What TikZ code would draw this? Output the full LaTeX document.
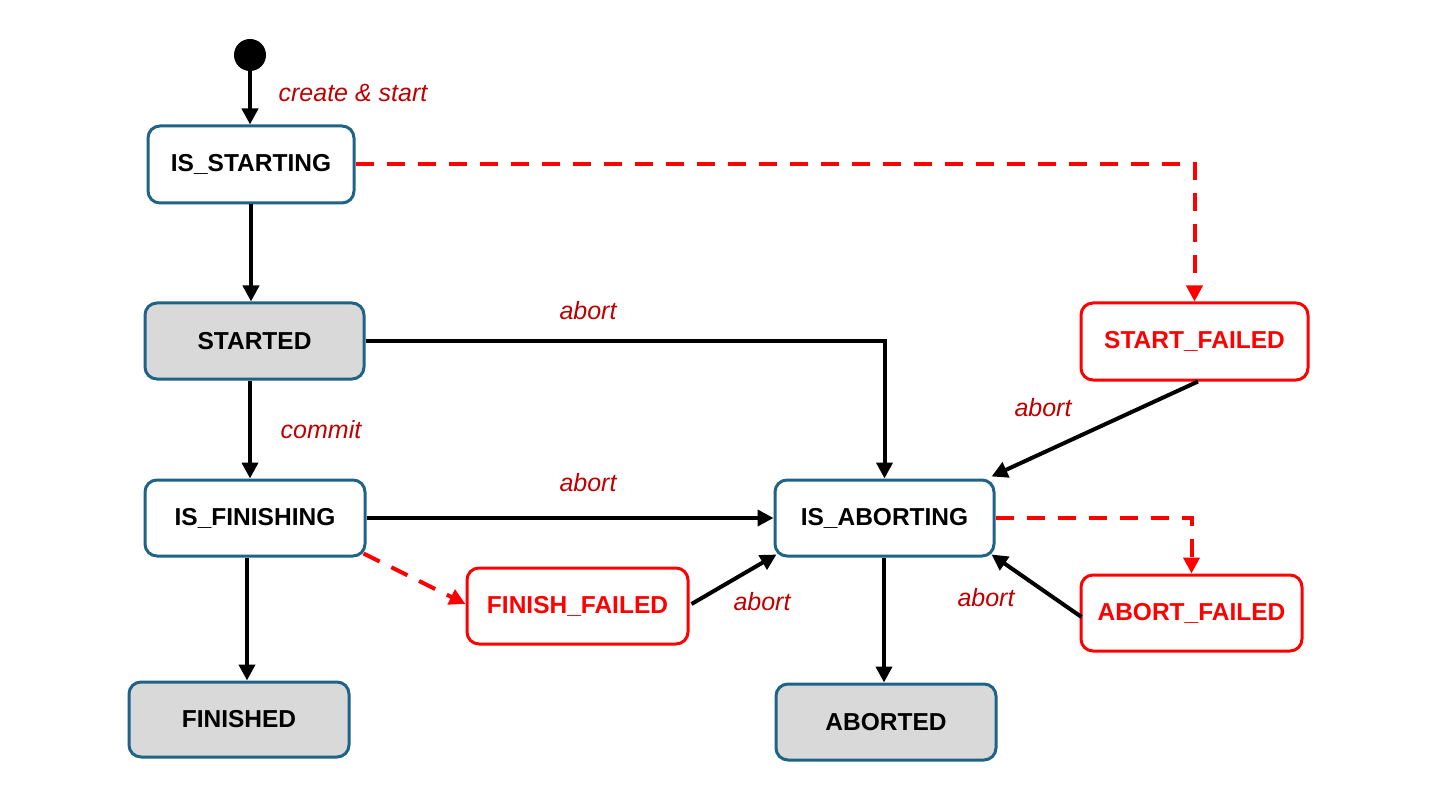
\documentclass[tikz,border=0pt]{standalone}
\usepackage{fontspec}
\setmainfont{Liberation Sans}
\usetikzlibrary{arrows.meta,calc}
\definecolor{stblue}{HTML}{1F6386}
\definecolor{stgray}{HTML}{D9D9D9}
\definecolor{lblred}{HTML}{C00000}
\definecolor{errred}{HTML}{FF0000}
\tikzset{
  state/.style={draw=stblue, line width=3pt, rounded corners=12pt, fill=white,
    minimum width=#1, minimum height=76pt, inner sep=0pt,
    font=\fontsize{24.5}{29}\selectfont\bfseries},
  state/.default=220pt,
  done/.style={state=#1, fill=stgray},
  done/.default=220pt,
  failed/.style={state=#1, draw=errred, text=errred},
  failed/.default=221pt,
  arr/.style={line width=4pt, -{Triangle[length=16pt,width=16pt]}},
  farr/.style={arr, draw=errred, dash pattern=on 18pt off 13pt, -{Triangle[length=16pt,width=16pt,fill=errred]}},
  lbl/.style={text=lblred, font=\fontsize{25}{30}\selectfont\itshape, inner sep=0pt}
}
\begin{document}
\begin{tikzpicture}[x=1pt,y=-1pt]
\useasboundingbox (0,0) rectangle (1440,810);
\fill[white] (0,0) rectangle (1440,810);

\node[circle, fill=black, minimum size=32pt, inner sep=0pt] (init) at (250,55) {};
\node[state=206pt, minimum height=77pt] (isstart) at (251,164.5) {IS\_STARTING};
\node[done=219pt] (started) at (254.5,341) {STARTED};
\node[state] (isfin) at (255,518) {IS\_FINISHING};
\node[done, minimum height=75pt] (finished) at (239,719.5) {FINISHED};
\node[failed=227pt, minimum height=77pt] (sf) at (1194.5,341.5) {START\_FAILED};
\node[state=219pt] (isabort) at (884.5,518) {IS\_ABORTING};
\node[failed] (ff) at (577.5,606) {FINISH\_FAILED};
\node[failed] (af) at (1191.5,613) {ABORT\_FAILED};
\node[done] (aborted) at (886,722) {ABORTED};

% connectors
\draw[arr] (init) -- (init |- isstart.north);
\node[lbl] (l1) at (353,93) {create \& start};

\draw[farr] (isstart.east) -| (sf.north);

\draw[arr] (isstart.south) -- (isstart.south |- started.north);

\draw[arr] (started.east) -| (isabort.north);
\node[lbl] (l2) at (588,311) {abort};

\draw[arr] ([xshift=-4.5pt]started.south) -- ([xshift=-4.5pt]started.south |- isfin.north);
\node[lbl] (l3) at (321,430) {commit};

\draw[arr] (isfin.east) -- (isabort.west);
\node[lbl] (l4) at (588,483) {abort};

\draw[farr] ($(isfin.south east)+(-3,-4)$) -- ($(ff.west)+(0,-2)$);

\draw[arr] ([xshift=-8pt]isfin.south) -- ([xshift=-8pt]isfin.south |- finished.north);

\draw[arr] ($(ff.east)+(2,-2)$) -- ($(isabort.south west)+(3,-3)$);
\node[lbl] (l5) at (762,602) {abort};

\draw[arr] ($(sf.south)+(3.5,0)$) -- ($(isabort.north east)+(-4,-2)$);
\node[lbl] (l6) at (1043,408) {abort};

\draw[farr] (isabort.east) -| (af.north);

\draw[arr] ($(af.west)+(2,4)$) -- ($(isabort.south east)+(-4,-3)$);
\node[lbl] (l7) at (986,598) {abort};

\draw[arr] ([xshift=-0.5pt]isabort.south) -- ([xshift=-0.5pt]isabort.south |- aborted.north);
\end{tikzpicture}
\end{document}
